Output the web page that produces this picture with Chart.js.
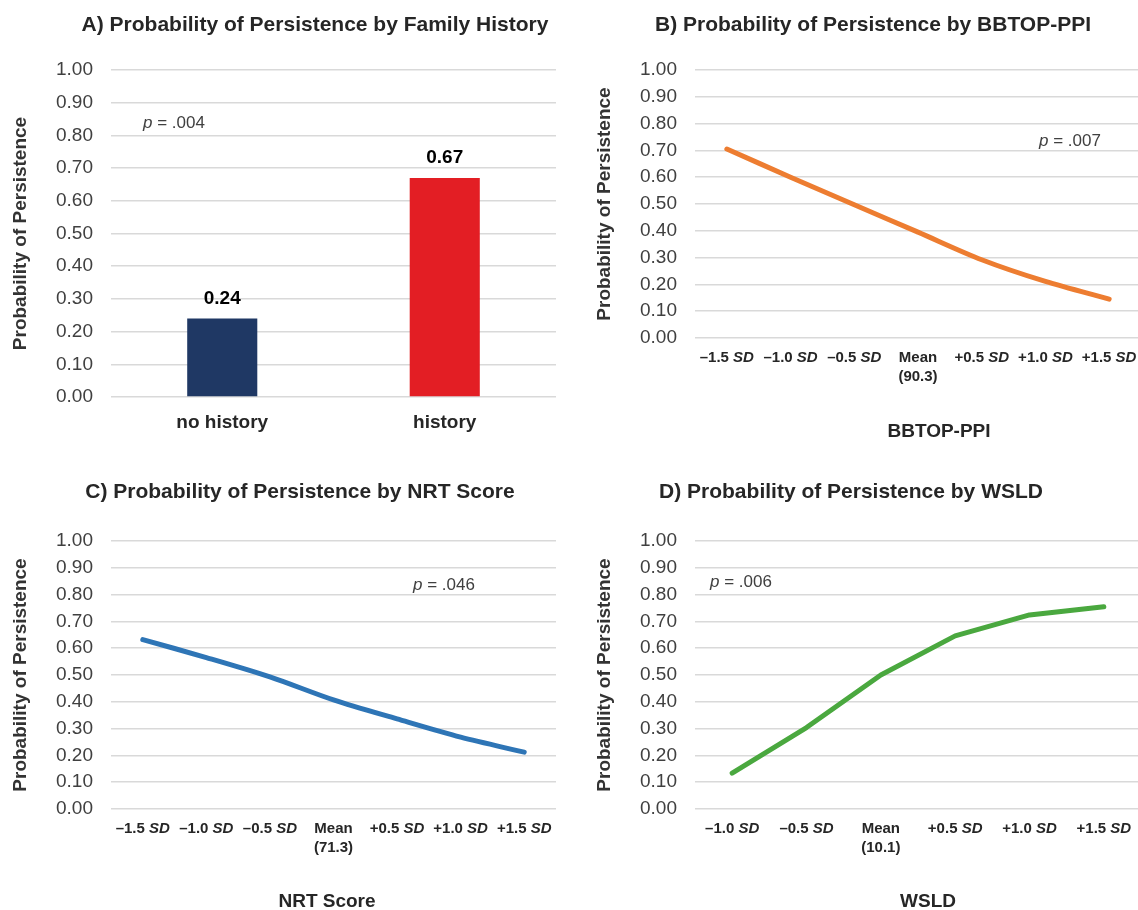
<!DOCTYPE html>
<html>
<head>
<meta charset="utf-8">
<script src="https://cdn.jsdelivr.net/npm/chart.js@4.4.1/dist/chart.umd.min.js"></script>
<style>
  html, body { margin: 0; padding: 0; background: #fff; }
  body { width: 1138px; height: 910px; position: relative; overflow: hidden; }
  canvas { position: absolute; }
</style>
</head>
<body>
<canvas id="cA" width="570" height="450" style="left:0px;top:0px"></canvas>
<canvas id="cB" width="571" height="450" style="left:584px;top:0px"></canvas>
<canvas id="cC" width="570" height="450" style="left:0px;top:460px"></canvas>
<canvas id="cD" width="571" height="450" style="left:584px;top:460px"></canvas>
<script>
// ---------- data ----------
const yTickValues = [0, 0.1, 0.2, 0.3, 0.4, 0.5, 0.6, 0.7, 0.8, 0.9, 1.0];

const familyCategories = ['no history', 'history'];
const familyValues = [0.24, 0.67];

const bbtopTicks = ['–1.5 SD', '–1.0 SD', '–0.5 SD', ['Mean', '(90.3)'], '+0.5 SD', '+1.0 SD', '+1.5 SD'];
const bbtopValues = [0.705, 0.600, 0.497, 0.395, 0.292, 0.211, 0.145];

const nrtTicks = ['–1.5 SD', '–1.0 SD', '–0.5 SD', ['Mean', '(71.3)'], '+0.5 SD', '+1.0 SD', '+1.5 SD'];
const nrtValues = [0.632, 0.565, 0.493, 0.407, 0.336, 0.268, 0.212];

const wsldTicks = ['–1.0 SD', '–0.5 SD', ['Mean', '(10.1)'], '+0.5 SD', '+1.0 SD', '+1.5 SD'];
const wsldValues = [0.134, 0.304, 0.500, 0.646, 0.724, 0.755];

const pValues = { A: '.004', B: '.007', C: '.046', D: '.006' };
const titles = {
  A: 'A) Probability of Persistence by Family History',
  B: 'B) Probability of Persistence by BBTOP-PPI',
  C: 'C) Probability of Persistence by NRT Score',
  D: 'D) Probability of Persistence by WSLD'
};
const xTitles = { B: 'BBTOP-PPI', C: 'NRT Score', D: 'WSLD' };
const yTitle = 'Probability of Persistence';

// ---------- styling / drawing ----------
const FAM = "'Liberation Sans', Arial, Helvetica, sans-serif";

function drawMixed(ctx, text, cx, cy) {
  let parts;
  if (text.endsWith(' SD')) {
    parts = [[text.slice(0, -2), `bold 15px ${FAM}`], ['SD', `italic bold 15px ${FAM}`]];
  } else {
    parts = [[text, `bold 15px ${FAM}`]];
  }
  let total = 0;
  parts.forEach(p => { ctx.font = p[1]; p.push(ctx.measureText(p[0]).width); total += p[2]; });
  let x = cx - total / 2;
  ctx.textAlign = 'left';
  ctx.textBaseline = 'middle';
  parts.forEach(p => { ctx.font = p[1]; ctx.fillText(p[0], x, cy); x += p[2]; });
}

const deco = {
  id: 'deco',
  afterDraw(chart, args, o) {
    const ctx = chart.ctx;
    ctx.save();
    ctx.textBaseline = 'middle';
    if (o.title) {
      ctx.font = `bold 21px ${FAM}`;
      ctx.fillStyle = '#262626';
      ctx.textAlign = 'center';
      ctx.fillText(o.title.text, o.title.x, o.title.y);
    }
    if (o.xTitle) {
      ctx.font = `bold 19px ${FAM}`;
      ctx.fillStyle = '#262626';
      ctx.textAlign = 'center';
      ctx.fillText(o.xTitle.text, o.xTitle.x, o.xTitle.y);
    }
    if (o.p) {
      ctx.fillStyle = '#404040';
      ctx.textAlign = 'left';
      ctx.font = `italic 17px ${FAM}`;
      ctx.fillText('p', o.p.x, o.p.y);
      const w = ctx.measureText('p').width;
      ctx.font = `17px ${FAM}`;
      ctx.fillText(' = ' + o.p.value, o.p.x + w, o.p.y);
    }
    if (o.ticks) {
      const xs = chart.scales.x;
      const b = chart.chartArea.bottom;
      ctx.fillStyle = '#262626';
      o.ticks.forEach((lab, i) => {
        const x = xs.getPixelForValue(i);
        const lines = Array.isArray(lab) ? lab : [lab];
        lines.forEach((ln, j) => drawMixed(ctx, ln, x, b + 20 + j * 19));
      });
    }
    if (o.barValues) {
      const meta = chart.getDatasetMeta(0);
      const data = chart.data.datasets[0].data;
      ctx.font = `bold 19px ${FAM}`;
      ctx.fillStyle = '#000';
      ctx.textAlign = 'center';
      meta.data.forEach((el, i) => ctx.fillText(data[i].toFixed(2), el.x, el.y - 20));
    }
    ctx.restore();
  }
};

function yScale() {
  return {
    min: 0, max: 1,
    afterFit: s => { s.width = 111; },
    afterBuildTicks: s => { s.ticks = yTickValues.map(v => ({ value: v })); },
    grid: { color: '#d9d9d9', lineWidth: 1.5, drawTicks: false },
    border: { display: false },
    ticks: {
      padding: 18,
      color: '#404040',
      font: { family: FAM, size: 19 },
      callback: v => Number(v).toFixed(2)
    },
    title: {
      display: true, text: yTitle, color: '#333',
      font: { family: FAM, size: 19, weight: 'bold' },
      padding: { top: 9, bottom: 0 }
    }
  };
}

function baseOptions(padTop, xHeight, deco) {
  return {
    responsive: false,
    animation: false,
    devicePixelRatio: 1,
    layout: { padding: { top: padTop, right: 14, left: 0, bottom: 0 } },
    plugins: { legend: { display: false }, tooltip: { enabled: false }, deco },
    scales: {
      x: {
        offset: true,
        afterFit: s => { s.height = xHeight; },
        grid: { display: false },
        border: { display: false },
        ticks: { display: false }
      },
      y: yScale()
    }
  };
}

// Panel A (bar)
const optA = baseOptions(70, 53, {
  title: { text: titles.A, x: 315, y: 25 },
  p: { value: pValues.A, x: 143, y: 123 },
  barValues: true
});
optA.scales.x.ticks = {
  display: true, padding: 6, color: '#262626',
  font: { family: FAM, size: 19, weight: 'bold' }
};
new Chart(document.getElementById('cA'), {
  type: 'bar',
  data: {
    labels: familyCategories,
    datasets: [{
      data: familyValues,
      backgroundColor: ['#1f3864', '#e31e24'],
      categoryPercentage: 1,
      barPercentage: 0.315
    }]
  },
  options: optA,
  plugins: [deco]
});

function lineChart(id, labels, values, color, tension, padTop, xHeight, decoOpts) {
  new Chart(document.getElementById(id), {
    type: 'line',
    data: {
      labels,
      datasets: [{
        data: values,
        borderColor: color,
        borderWidth: 5,
        borderCapStyle: 'round',
        borderJoinStyle: 'round',
        pointRadius: 0,
        tension,
        fill: false
      }]
    },
    options: baseOptions(padTop, xHeight, decoOpts),
    plugins: [deco]
  });
}

// Panel B
lineChart('cB', bbtopTicks, bbtopValues, '#ed7d31', 0.3, 70, 112, {
  title: { text: titles.B, x: 289, y: 25 },
  xTitle: { text: xTitles.B, x: 355, y: 432 },
  p: { value: pValues.B, x: 455, y: 141 },
  ticks: bbtopTicks
});

// Panel C
lineChart('cC', nrtTicks, nrtValues, '#2e75b6', 0.3, 81, 101, {
  title: { text: titles.C, x: 300, y: 32 },
  xTitle: { text: xTitles.C, x: 327, y: 442 },
  p: { value: pValues.C, x: 413, y: 125 },
  ticks: nrtTicks
});

// Panel D
lineChart('cD', wsldTicks, wsldValues, '#4aa83f', 0, 81, 101, {
  title: { text: titles.D, x: 267, y: 32 },
  xTitle: { text: xTitles.D, x: 344, y: 442 },
  p: { value: pValues.D, x: 126, y: 122 },
  ticks: wsldTicks
});
</script>
</body>
</html>
